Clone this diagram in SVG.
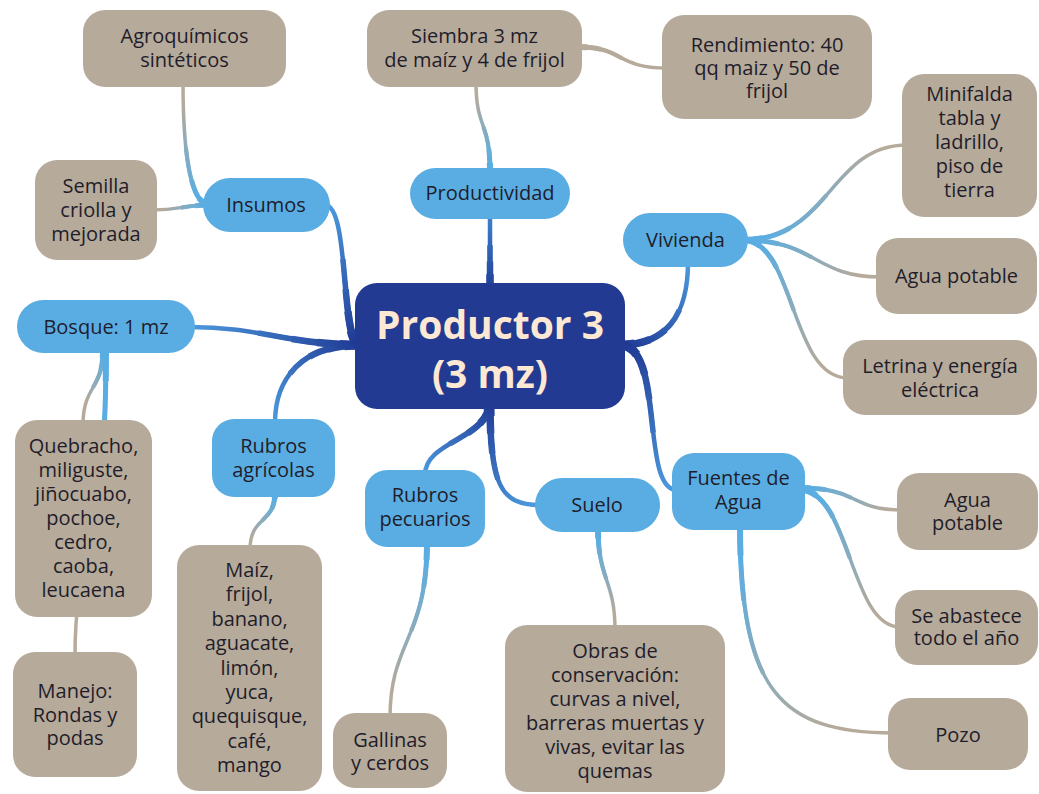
<svg xmlns="http://www.w3.org/2000/svg" width="1039" height="794" viewBox="0 0 1039 794">
  <style>
    text { font-family: "Open Sans", "Noto Sans", "DejaVu Sans", sans-serif; font-size: 20px; fill: #1f1d2b; text-anchor: middle; }
    .title { font-weight: 700; font-size: 39px; fill: #fde8d4; }
    .core { fill: #223a92; }
    .topic { fill: #5aade2; }
    .leaf { fill: #b6aa9a; }
    .link { fill: none; stroke-linecap: butt; }
    /* hub branches: widest at the hub, narrowing outward */
    .ca { stroke-width: 4.5; }
    .cb { stroke-width: 5.5; stroke-dasharray: 60 200; }
    .cc { stroke-width: 6.5; stroke-dasharray: 40 200; }
    .cd { stroke-width: 7.5; stroke-dasharray: 25 200; }
    .ce { stroke-width: 9; stroke-dasharray: 12 200; }
    /* sub branches */
    .ka { stroke-width: 3.5; }
    .kb { stroke-width: 4.2; stroke-dasharray: 50 200; }
    .kc { stroke-width: 5; stroke-dasharray: 25 200; }
    .kd { stroke-width: 6; stroke-dasharray: 10 200; }
  </style>
  <defs>
    <!-- main branches: dark navy at the hub, lighter blue at the topic -->
    <linearGradient id="gc1" gradientUnits="userSpaceOnUse" x1="490" y1="295" x2="490" y2="212"><stop offset="0" stop-color="#1f3893"/><stop offset="1" stop-color="#3f86d2"/></linearGradient>
    <linearGradient id="gc2" gradientUnits="userSpaceOnUse" x1="360" y1="345" x2="325" y2="205"><stop offset="0" stop-color="#1f3893"/><stop offset="1" stop-color="#4d9ade"/></linearGradient>
    <linearGradient id="gc3" gradientUnits="userSpaceOnUse" x1="360" y1="345" x2="190" y2="327"><stop offset="0" stop-color="#1f3893"/><stop offset="1" stop-color="#4d9ade"/></linearGradient>
    <linearGradient id="gc4" gradientUnits="userSpaceOnUse" x1="360" y1="345" x2="275" y2="423"><stop offset="0" stop-color="#1f3893"/><stop offset="1" stop-color="#4d9ade"/></linearGradient>
    <linearGradient id="gc5" gradientUnits="userSpaceOnUse" x1="620" y1="345" x2="688" y2="262"><stop offset="0" stop-color="#1f3893"/><stop offset="1" stop-color="#4d9ade"/></linearGradient>
    <linearGradient id="gc6" gradientUnits="userSpaceOnUse" x1="620" y1="345" x2="677" y2="490"><stop offset="0" stop-color="#1f3893"/><stop offset="1" stop-color="#4d9ade"/></linearGradient>
    <linearGradient id="gc7" gradientUnits="userSpaceOnUse" x1="490" y1="400" x2="540" y2="505"><stop offset="0" stop-color="#1f3893"/><stop offset="1" stop-color="#4d9ade"/></linearGradient>
    <linearGradient id="gc8" gradientUnits="userSpaceOnUse" x1="490" y1="400" x2="425" y2="475"><stop offset="0" stop-color="#1f3893"/><stop offset="1" stop-color="#4d9ade"/></linearGradient>
    <!-- sub branches: topic blue fading into the leaf tan -->
    <linearGradient id="gk1" gradientUnits="userSpaceOnUse" x1="490" y1="172" x2="476" y2="82"><stop offset="0.1" stop-color="#5aade2"/><stop offset="0.85" stop-color="#b6aa9a"/></linearGradient>
    <linearGradient id="gk3" gradientUnits="userSpaceOnUse" x1="210" y1="205" x2="183" y2="82"><stop offset="0.1" stop-color="#5aade2"/><stop offset="0.85" stop-color="#b6aa9a"/></linearGradient>
    <linearGradient id="gk4" gradientUnits="userSpaceOnUse" x1="210" y1="205" x2="152" y2="210"><stop offset="0.1" stop-color="#5aade2"/><stop offset="0.85" stop-color="#b6aa9a"/></linearGradient>
    <linearGradient id="gk5" gradientUnits="userSpaceOnUse" x1="103" y1="350" x2="83" y2="425"><stop offset="0.1" stop-color="#5aade2"/><stop offset="0.7" stop-color="#b6aa9a"/></linearGradient>
    <linearGradient id="gk6" gradientUnits="userSpaceOnUse" x1="106" y1="350" x2="75" y2="657"><stop offset="0.25" stop-color="#5aade2"/><stop offset="0.8" stop-color="#b6aa9a"/></linearGradient>
    <linearGradient id="gk7" gradientUnits="userSpaceOnUse" x1="275" y1="492" x2="250" y2="550"><stop offset="0.1" stop-color="#5aade2"/><stop offset="0.85" stop-color="#b6aa9a"/></linearGradient>
    <linearGradient id="gk8" gradientUnits="userSpaceOnUse" x1="427" y1="542" x2="390" y2="718"><stop offset="0.1" stop-color="#5aade2"/><stop offset="0.85" stop-color="#b6aa9a"/></linearGradient>
    <linearGradient id="gk9" gradientUnits="userSpaceOnUse" x1="598" y1="528" x2="615" y2="630"><stop offset="0.1" stop-color="#5aade2"/><stop offset="0.85" stop-color="#b6aa9a"/></linearGradient>
    <linearGradient id="gk10" gradientUnits="userSpaceOnUse" x1="743" y1="240" x2="907" y2="145"><stop offset="0.1" stop-color="#5aade2"/><stop offset="0.85" stop-color="#b6aa9a"/></linearGradient>
    <linearGradient id="gk11" gradientUnits="userSpaceOnUse" x1="743" y1="240" x2="880" y2="277"><stop offset="0.1" stop-color="#5aade2"/><stop offset="0.85" stop-color="#b6aa9a"/></linearGradient>
    <linearGradient id="gk12" gradientUnits="userSpaceOnUse" x1="743" y1="240" x2="848" y2="378"><stop offset="0.1" stop-color="#5aade2"/><stop offset="0.85" stop-color="#b6aa9a"/></linearGradient>
    <linearGradient id="gk13" gradientUnits="userSpaceOnUse" x1="800" y1="488" x2="902" y2="510"><stop offset="0.1" stop-color="#5aade2"/><stop offset="0.85" stop-color="#b6aa9a"/></linearGradient>
    <linearGradient id="gk14" gradientUnits="userSpaceOnUse" x1="800" y1="490" x2="900" y2="627"><stop offset="0.1" stop-color="#5aade2"/><stop offset="0.85" stop-color="#b6aa9a"/></linearGradient>
    <linearGradient id="gk15" gradientUnits="userSpaceOnUse" x1="740" y1="525" x2="893" y2="733"><stop offset="0.1" stop-color="#5aade2"/><stop offset="0.85" stop-color="#b6aa9a"/></linearGradient>

    <!-- connector geometry; each is drawn several times with narrowing widths for a tapered look -->
    <path id="c1" class="link" pathLength="100" stroke="url(#gc1)" d="M490,295 C490,260 490,240 490,212"/>
    <path id="c2" class="link" pathLength="100" stroke="url(#gc2)" d="M360,345 C340,345 350,205 325,205"/>
    <path id="c3" class="link" pathLength="100" stroke="url(#gc3)" d="M360,345 C290,345 260,327 190,327"/>
    <path id="c4" class="link" pathLength="100" stroke="url(#gc4)" d="M360,345 C300,345 275,380 275,423"/>
    <path id="c5" class="link" pathLength="100" stroke="url(#gc5)" d="M620,345 C670,345 688,310 688,262"/>
    <path id="c6" class="link" pathLength="100" stroke="url(#gc6)" d="M620,345 C665,345 640,490 677,490"/>
    <path id="c7" class="link" pathLength="100" stroke="url(#gc7)" d="M490,400 C490,485 500,505 540,505"/>
    <path id="c8" class="link" pathLength="100" stroke="url(#gc8)" d="M490,400 C490,440 425,440 425,475"/>

    <path id="k1" class="link" pathLength="100" stroke="url(#gk1)" d="M490,172 C490,120 476,130 476,82"/>
    <path id="k2" class="link" pathLength="100" stroke="#b6aa9a" d="M578,47 C625,47 615,68 667,68"/>
    <path id="k3" class="link" pathLength="100" stroke="url(#gk3)" d="M210,205 C190,205 183,150 183,82"/>
    <path id="k4" class="link" pathLength="100" stroke="url(#gk4)" d="M210,205 C185,205 180,210 152,210"/>
    <path id="k5" class="link" pathLength="100" stroke="url(#gk5)" d="M103,350 C103,390 83,385 83,425"/>
    <path id="k6" class="link" pathLength="100" stroke="url(#gk6)" d="M106,350 C106,560 75,540 75,657"/>
    <path id="k7" class="link" pathLength="100" stroke="url(#gk7)" d="M275,492 C275,525 250,515 250,550"/>
    <path id="k8" class="link" pathLength="100" stroke="url(#gk8)" d="M427,542 C427,640 390,640 390,718"/>
    <path id="k9" class="link" pathLength="100" stroke="url(#gk9)" d="M598,528 C598,580 615,580 615,630"/>
    <path id="k10" class="link" pathLength="100" stroke="url(#gk10)" d="M743,240 C830,240 830,145 907,145"/>
    <path id="k11" class="link" pathLength="100" stroke="url(#gk11)" d="M743,240 C815,240 815,277 880,277"/>
    <path id="k12" class="link" pathLength="100" stroke="url(#gk12)" d="M743,240 C795,240 790,378 848,378"/>
    <path id="k13" class="link" pathLength="100" stroke="url(#gk13)" d="M800,488 C860,488 850,510 902,510"/>
    <path id="k14" class="link" pathLength="100" stroke="url(#gk14)" d="M800,490 C850,490 850,627 900,627"/>
    <path id="k15" class="link" pathLength="100" stroke="url(#gk15)" d="M740,525 C740,690 780,733 893,733"/>
  </defs>

  <rect width="1039" height="794" fill="#ffffff"/>

  <g id="connectors">
    <use href="#c1" class="ca"/><use href="#c1" class="cb"/><use href="#c1" class="cc"/><use href="#c1" class="cd"/><use href="#c1" class="ce"/>
    <use href="#c2" class="ca"/><use href="#c2" class="cb"/><use href="#c2" class="cc"/><use href="#c2" class="cd"/><use href="#c2" class="ce"/>
    <use href="#c3" class="ca"/><use href="#c3" class="cb"/><use href="#c3" class="cc"/><use href="#c3" class="cd"/><use href="#c3" class="ce"/>
    <use href="#c4" class="ca"/><use href="#c4" class="cb"/><use href="#c4" class="cc"/><use href="#c4" class="cd"/><use href="#c4" class="ce"/>
    <use href="#c5" class="ca"/><use href="#c5" class="cb"/><use href="#c5" class="cc"/><use href="#c5" class="cd"/><use href="#c5" class="ce"/>
    <use href="#c6" class="ca"/><use href="#c6" class="cb"/><use href="#c6" class="cc"/><use href="#c6" class="cd"/><use href="#c6" class="ce"/>
    <use href="#c7" class="ca"/><use href="#c7" class="cb"/><use href="#c7" class="cc"/><use href="#c7" class="cd"/><use href="#c7" class="ce"/>
    <use href="#c8" class="ca"/><use href="#c8" class="cb"/><use href="#c8" class="cc"/><use href="#c8" class="cd"/><use href="#c8" class="ce"/>

    <use href="#k1" class="ka"/><use href="#k1" class="kb"/><use href="#k1" class="kc"/><use href="#k1" class="kd"/>
    <use href="#k2" class="ka"/><use href="#k2" class="kb"/><use href="#k2" class="kc"/><use href="#k2" class="kd"/>
    <use href="#k3" class="ka"/><use href="#k3" class="kb"/><use href="#k3" class="kc"/><use href="#k3" class="kd"/>
    <use href="#k4" class="ka"/><use href="#k4" class="kb"/><use href="#k4" class="kc"/><use href="#k4" class="kd"/>
    <use href="#k5" class="ka"/><use href="#k5" class="kb"/><use href="#k5" class="kc"/><use href="#k5" class="kd"/>
    <use href="#k6" class="ka"/><use href="#k6" class="kb"/><use href="#k6" class="kc"/><use href="#k6" class="kd"/>
    <use href="#k7" class="ka"/><use href="#k7" class="kb"/><use href="#k7" class="kc"/><use href="#k7" class="kd"/>
    <use href="#k8" class="ka"/><use href="#k8" class="kb"/><use href="#k8" class="kc"/><use href="#k8" class="kd"/>
    <use href="#k9" class="ka"/><use href="#k9" class="kb"/><use href="#k9" class="kc"/><use href="#k9" class="kd"/>
    <use href="#k10" class="ka"/><use href="#k10" class="kb"/><use href="#k10" class="kc"/><use href="#k10" class="kd"/>
    <use href="#k11" class="ka"/><use href="#k11" class="kb"/><use href="#k11" class="kc"/><use href="#k11" class="kd"/>
    <use href="#k12" class="ka"/><use href="#k12" class="kb"/><use href="#k12" class="kc"/><use href="#k12" class="kd"/>
    <use href="#k13" class="ka"/><use href="#k13" class="kb"/><use href="#k13" class="kc"/><use href="#k13" class="kd"/>
    <use href="#k14" class="ka"/><use href="#k14" class="kb"/><use href="#k14" class="kc"/><use href="#k14" class="kd"/>
    <use href="#k15" class="ka"/><use href="#k15" class="kb"/><use href="#k15" class="kc"/><use href="#k15" class="kd"/>
  </g>

  <!-- hub -->
  <g id="productor">
    <rect class="core" x="355" y="283" width="270" height="126" rx="22"/>
    <text class="title" x="490" y="339">Productor 3<tspan x="490" dy="49">(3 mz)</tspan></text>
  </g>

  <!-- topics -->
  <g id="productividad">
    <rect class="topic" x="410" y="168" width="160" height="51" rx="25.5"/>
    <text x="490" y="200">Productividad</text>
  </g>
  <g id="insumos">
    <rect class="topic" x="203" y="178" width="127" height="54" rx="27"/>
    <text x="266" y="212">Insumos</text>
  </g>
  <g id="bosque">
    <rect class="topic" x="17" y="300" width="178" height="53" rx="26.5"/>
    <text x="106" y="334">Bosque: 1 mz</text>
  </g>
  <g id="rubros-agricolas">
    <rect class="topic" x="212" y="419" width="123" height="78" rx="22"/>
    <text x="273.5" y="453">Rubros<tspan x="273.5" dy="24">agrícolas</tspan></text>
  </g>
  <g id="rubros-pecuarios">
    <rect class="topic" x="365" y="470" width="120" height="77" rx="22"/>
    <text x="425" y="502">Rubros<tspan x="425" dy="24">pecuarios</tspan></text>
  </g>
  <g id="suelo">
    <rect class="topic" x="535" y="478" width="125" height="54" rx="27"/>
    <text x="597" y="512">Suelo</text>
  </g>
  <g id="vivienda">
    <rect class="topic" x="623" y="213" width="125" height="54" rx="27"/>
    <text x="685.5" y="247">Vivienda</text>
  </g>
  <g id="fuentes-agua">
    <rect class="topic" x="672" y="453" width="133" height="77" rx="22"/>
    <text x="738.5" y="485">Fuentes de<tspan x="738.5" dy="24">Agua</tspan></text>
  </g>

  <!-- leaves -->
  <g id="agroquimicos">
    <rect class="leaf" x="83" y="10" width="203" height="77" rx="22"/>
    <text x="184.5" y="43">Agroquímicos<tspan x="184.5" dy="24">sintéticos</tspan></text>
  </g>
  <g id="semilla">
    <rect class="leaf" x="35" y="160" width="122" height="100" rx="22"/>
    <text x="96" y="193">Semilla<tspan x="96" dy="24">criolla y</tspan><tspan x="96" dy="24">mejorada</tspan></text>
  </g>
  <g id="siembra">
    <rect class="leaf" x="367" y="10" width="215" height="77" rx="22"/>
    <text x="474.5" y="43">Siembra 3 mz<tspan x="474.5" dy="24">de maíz y 4 de frijol</tspan></text>
  </g>
  <g id="rendimiento">
    <rect class="leaf" x="662" y="15" width="210" height="104" rx="22"/>
    <text x="767" y="52">Rendimiento: 40<tspan x="767" dy="23">qq maiz y 50 de</tspan><tspan x="767" dy="23">frijol</tspan></text>
  </g>
  <g id="minifalda">
    <rect class="leaf" x="902" y="74" width="135" height="143" rx="22"/>
    <text x="969.5" y="101">Minifalda<tspan x="969.5" dy="24">tabla y</tspan><tspan x="969.5" dy="24">ladrillo,</tspan><tspan x="969.5" dy="24">piso de</tspan><tspan x="969.5" dy="24">tierra</tspan></text>
  </g>
  <g id="agua-potable-vivienda">
    <rect class="leaf" x="876" y="238" width="161" height="76" rx="22"/>
    <text x="956.5" y="283">Agua potable</text>
  </g>
  <g id="letrina">
    <rect class="leaf" x="843" y="340" width="194" height="75" rx="22"/>
    <text x="940" y="373">Letrina y energía<tspan x="940" dy="24">eléctrica</tspan></text>
  </g>
  <g id="agua-potable-fuente">
    <rect class="leaf" x="897" y="473" width="141" height="77" rx="22"/>
    <text x="967.5" y="507">Agua<tspan x="967.5" dy="23">potable</tspan></text>
  </g>
  <g id="abastece">
    <rect class="leaf" x="895" y="590" width="143" height="75" rx="22"/>
    <text x="966.5" y="623">Se abastece<tspan x="966.5" dy="22">todo el año</tspan></text>
  </g>
  <g id="pozo">
    <rect class="leaf" x="888" y="698" width="140" height="72" rx="22"/>
    <text x="958" y="742">Pozo</text>
  </g>
  <g id="obras">
    <rect class="leaf" x="505" y="625" width="220" height="167" rx="22"/>
    <text x="615" y="658">Obras de<tspan x="615" dy="24">conservación:</tspan><tspan x="615" dy="24">curvas a nivel,</tspan><tspan x="615" dy="24">barreras muertas y</tspan><tspan x="615" dy="24">vivas, evitar las</tspan><tspan x="615" dy="24">quemas</tspan></text>
  </g>
  <g id="gallinas">
    <rect class="leaf" x="333" y="713" width="114" height="75" rx="22"/>
    <text x="390" y="747">Gallinas<tspan x="390" dy="23">y cerdos</tspan></text>
  </g>
  <g id="cultivos">
    <rect class="leaf" x="177" y="545" width="145" height="246" rx="22"/>
    <text x="249.5" y="577">Maíz,<tspan x="249.5" dy="24.4">frijol,</tspan><tspan x="249.5" dy="24.4">banano,</tspan><tspan x="249.5" dy="24.4">aguacate,</tspan><tspan x="249.5" dy="24.4">limón,</tspan><tspan x="249.5" dy="24.4">yuca,</tspan><tspan x="249.5" dy="24.4">quequisque,</tspan><tspan x="249.5" dy="24.4">café,</tspan><tspan x="249.5" dy="24.4">mango</tspan></text>
  </g>
  <g id="especies">
    <rect class="leaf" x="15" y="420" width="137" height="197" rx="22"/>
    <text x="83.5" y="453">Quebracho,<tspan x="83.5" dy="24">miliguste,</tspan><tspan x="83.5" dy="24">jiñocuabo,</tspan><tspan x="83.5" dy="24">pochoe,</tspan><tspan x="83.5" dy="24">cedro,</tspan><tspan x="83.5" dy="24">caoba,</tspan><tspan x="83.5" dy="24">leucaena</tspan></text>
  </g>
  <g id="manejo">
    <rect class="leaf" x="13" y="652" width="124" height="125" rx="22"/>
    <text x="75" y="698">Manejo:<tspan x="75" dy="24">Rondas y</tspan><tspan x="75" dy="23">podas</tspan></text>
  </g>
</svg>
